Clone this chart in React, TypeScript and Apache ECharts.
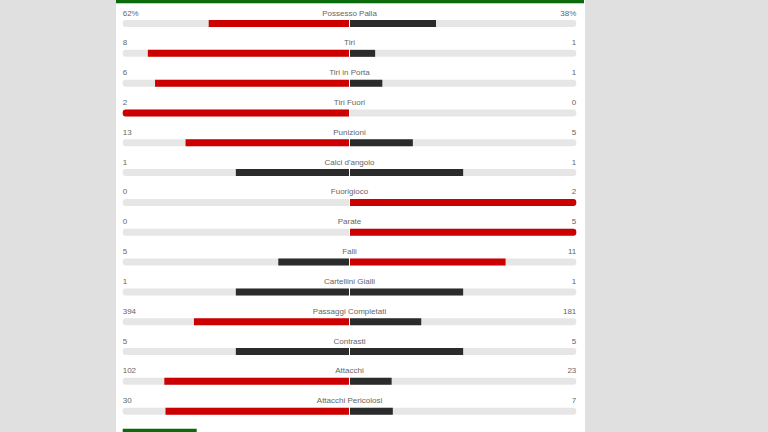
import React, { useEffect, useRef } from "react";
import * as echarts from "echarts";

const categories = [
  "Possesso Palla",
  "Tiri",
  "Tiri in Porta",
  "Tiri Fuori",
  "Punizioni",
  "Calci d'angolo",
  "Fuorigioco",
  "Parate",
  "Falli",
  "Cartellini Gialli",
  "Passaggi Completati",
  "Contrasti",
  "Attacchi",
  "Attacchi Pericolosi",
];
const homeValues = [62, 8, 6, 2, 13, 1, 0, 0, 5, 1, 394, 5, 102, 30];
const awayValues = [38, 1, 1, 0, 5, 1, 2, 5, 11, 1, 181, 5, 23, 7];
const homeLabels = ["62%", "8", "6", "2", "13", "1", "0", "0", "5", "1", "394", "5", "102", "30"];
const awayLabels = ["38%", "1", "1", "0", "5", "1", "2", "5", "11", "1", "181", "5", "23", "7"];

const RED = "#cc0000";
const DARK = "#2b2b2b";
const TRACK = "#e6e6e6";
const TEXT = "#666666";
const FONT = "Liberation Sans";

export default function App() {
  const ref = useRef<HTMLDivElement>(null);
  useEffect(() => {
    if (!ref.current) return;
    const chart = echarts.init(ref.current, undefined, { renderer: "svg" });
    const top = 8.6;
    const height = 417.5;
    const barW = 7;
    const R = 3;

    const share = (a: number, b: number) => (a + b === 0 ? 0 : a / (a + b));
    const homeItems = homeValues.map((h, i) => {
      const a = awayValues[i];
      const s = share(h, a);
      return {
        value: s,
        itemStyle: {
          color: h > a ? RED : DARK,
          borderRadius: s >= 0.999 ? [R, 0, 0, R] : 0,
        },
      };
    });
    const awayItems = awayValues.map((a, i) => {
      const h = homeValues[i];
      const s = share(a, h);
      return {
        value: s,
        itemStyle: {
          color: a > h ? RED : DARK,
          borderRadius: s >= 0.999 ? [0, R, R, 0] : 0,
        },
      };
    });

    const catAxis = (gi: number) => ({
      type: "category",
      gridIndex: gi,
      data: categories,
      inverse: true,
      show: false,
    });

    chart.setOption({
      animation: false,
      backgroundColor: "#e0e0e0",
      graphic: [
        { type: "rect", z: -10, shape: { x: 116, y: 0, width: 469, height: 432 }, style: { fill: "#ffffff" } },
        { type: "rect", z: -5, shape: { x: 116, y: 0, width: 468, height: 3 }, style: { fill: "#0b6a0b" } },
        { type: "rect", z: -5, shape: { x: 116, y: 3, width: 468, height: 1 }, style: { fill: "#b5d3b5" } },
        { type: "rect", z: -5, shape: { x: 122.7, y: 428.7, width: 74, height: 4 }, style: { fill: "#0b6a0b" } },
      ],
      grid: [
        { left: 122.7, right: 768 - 349, top, height },
        { left: 350, right: 768 - 576.3, top, height },
        { left: 122.7, right: 768 - 576.3, top, height },
      ],
      xAxis: [
        { type: "value", gridIndex: 0, min: 0, max: 1, inverse: true, show: false },
        { type: "value", gridIndex: 1, min: 0, max: 1, show: false },
        { type: "value", gridIndex: 2, min: 0, max: 1, show: false },
      ],
      yAxis: [catAxis(0), catAxis(1), catAxis(2)],
      series: [
        {
          type: "bar",
          xAxisIndex: 0,
          yAxisIndex: 0,
          barWidth: barW,
          barGap: "-100%",
          silent: true,
          data: categories.map(() => 1),
          itemStyle: { color: TRACK, borderRadius: [R, 0, 0, R] },
        },
        {
          type: "bar",
          xAxisIndex: 0,
          yAxisIndex: 0,
          barWidth: barW,
          barGap: "-100%",
          data: homeItems,
        },
        {
          type: "bar",
          xAxisIndex: 1,
          yAxisIndex: 1,
          barWidth: barW,
          barGap: "-100%",
          silent: true,
          data: categories.map(() => 1),
          itemStyle: { color: TRACK, borderRadius: [0, R, R, 0] },
        },
        {
          type: "bar",
          xAxisIndex: 1,
          yAxisIndex: 1,
          barWidth: barW,
          barGap: "-100%",
          data: awayItems,
        },
        {
          type: "custom",
          xAxisIndex: 2,
          yAxisIndex: 2,
          data: categories.map((_, i) => [0, i]),
          encode: { x: 0, y: 1 },
          renderItem: (params: any, api: any) => {
            const idx = api.value(1);
            const cs = params.coordSys;
            const y = api.coord([0, idx])[1] - 10.5;
            const mk = (text: string, x: number, align: string) => ({
              type: "text",
              style: {
                text,
                x,
                y,
                fill: TEXT,
                fontSize: 8,
                fontFamily: FONT,
                align,
                textAlign: align,
                verticalAlign: "middle",
                textVerticalAlign: "middle",
              },
            });
            return {
              type: "group",
              children: [
                mk(homeLabels[idx], cs.x, "left"),
                mk(categories[idx], 349.5, "center"),
                mk(awayLabels[idx], cs.x + cs.width, "right"),
              ],
            };
          },
        },
      ],
    });
    return () => chart.dispose();
  }, []);
  return (
    <div
      ref={ref}
      style={{ position: "fixed", left: 0, top: 0, width: 768, height: 432 }}
    />
  );
}
